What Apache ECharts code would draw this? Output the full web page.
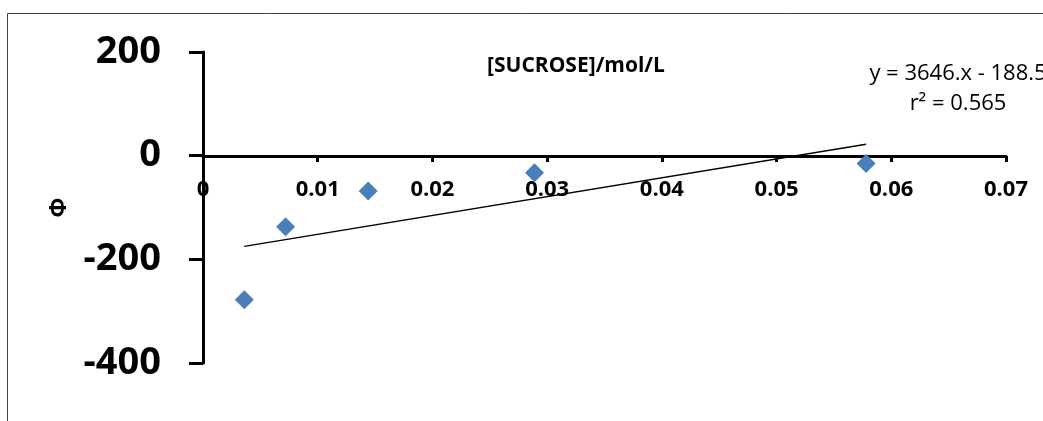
<!DOCTYPE html>
<html>
<head>
<meta charset="utf-8">
<script src="https://cdn.jsdelivr.net/npm/echarts@6/dist/echarts.min.js"></script>
<style>
  html, body { margin: 0; padding: 0; background: #fff; }
  #chart { width: 1043px; height: 421px; }
</style>
</head>
<body>
<div id="chart"></div>
<script>
// sucrose concentration (mol/L) vs phi
const sucrose = [0.0036, 0.0072, 0.0144, 0.0289, 0.0578]
const phi = [-278, -137, -68, -33, -15]

// linear trendline ends, as drawn in the picture
const trendX = [0.0036, 0.0578]
const trendY = [-175, 22]

const eqLines = ['y = 3646.x - 188.5', 'r\u00b2 = 0.565']

const font = '"Open Sans", "Liberation Sans", sans-serif'

const chart = echarts.init(document.getElementById('chart'))

const option = {
  animation: false,
  backgroundColor: '#fff',
  grid: { left: 203, right: 37, top: 52, bottom: 58 },
  title: {
    text: '[SUCROSE]/mol/L',
    left: 482,
    top: 51,
    textStyle: { fontFamily: font, fontWeight: 'bold', fontSize: 21, color: '#000' }
  },
  xAxis: {
    type: 'value',
    min: 0,
    max: 0.07,
    interval: 0.01,
    // sits on y = 0 (onZero does not carry labels along, so shift it)
    offset: -207,
    axisLine: { onZero: false, lineStyle: { color: '#000', width: 3 } },
    axisTick: { show: true, length: 6, lineStyle: { color: '#000', width: 3 } },
    axisLabel: { margin: 23, fontFamily: font, fontWeight: 'bold', fontSize: 22, color: '#000' },
    splitLine: { show: false }
  },
  yAxis: {
    type: 'value',
    min: -400,
    max: 200,
    interval: 200,
    name: 'Φ',
    nameLocation: 'middle',
    nameRotate: 90,
    nameGap: 132,
    nameTextStyle: { fontFamily: font, fontWeight: 'bold', fontSize: 23, color: '#000' },
    axisLine: { show: true, lineStyle: { color: '#000', width: 3 } },
    axisTick: { show: true, length: 14, lineStyle: { color: '#000', width: 3 } },
    axisLabel: { margin: 42, fontFamily: font, fontWeight: 'bold', fontSize: 38, color: '#000' },
    splitLine: { show: false }
  },
  graphic: [
    {
      type: 'rect',
      shape: { x: 7.5, y: 13.5, width: 1100, height: 500 },
      style: { fill: 'none', stroke: '#404040', lineWidth: 1 },
      z: -1
    },
    {
      type: 'text',
      x: 958,
      y: 59,
      style: {
        text: eqLines.join('\n'),
        align: 'center',
        fontFamily: font,
        fontSize: 22,
        lineHeight: 30,
        fill: '#000'
      }
    }
  ],
  series: [
    {
      name: 'Φ',
      type: 'scatter',
      symbol: 'diamond',
      symbolSize: [19, 19],
      itemStyle: { color: '#4a7ebb', opacity: 1 },
      data: sucrose.map((x, i) => [x, phi[i]]),
      z: 3
    },
    {
      name: 'trend',
      type: 'line',
      symbol: 'none',
      lineStyle: { color: '#000', width: 1.5 },
      data: trendX.map((x, i) => [x, trendY[i]]),
      z: 2
    }
  ]
}

chart.setOption(option)
</script>
</body>
</html>
